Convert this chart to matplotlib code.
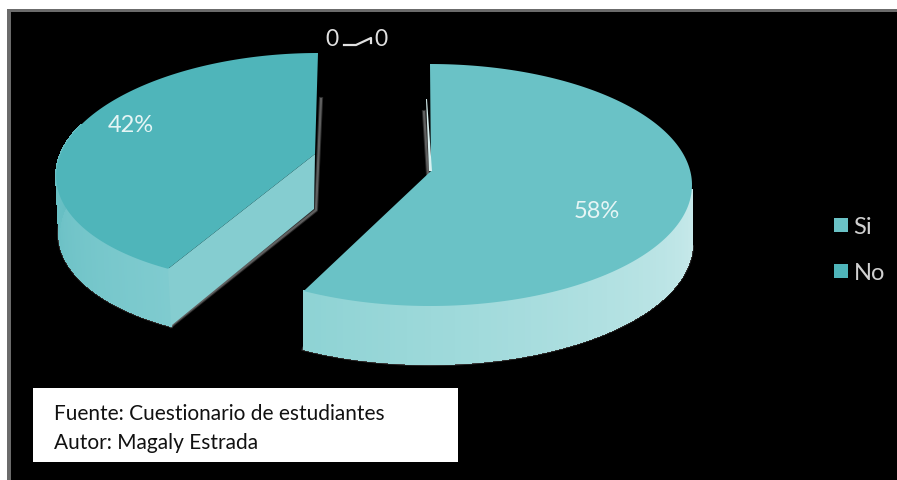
import numpy as np
from matplotlib import pyplot as plt
from matplotlib.colors import to_rgb
from matplotlib.lines import Line2D

categories = ["Si", "No"]
shares = [58, 42]
zero_labels = [0, 0]
source_lines = ["Fuente: Cuestionario de estudiantes", "Autor: Magaly Estrada"]

plt.rcParams['font.family'] = ['Lato', 'DejaVu Sans']


def rim(t, shape):
    # t in degrees, clockwise from the top of the pie
    cx, top, a, b, shear = shape
    rad = np.radians(t)
    depth = b * (1 - np.cos(rad))
    return cx + a * np.sin(rad) + shear * depth, top + depth


def mix(c1, c2, f):
    c1, c2 = np.array(to_rgb(c1)), np.array(to_rgb(c2))
    return tuple(c1 + (c2 - c1) * f)


def glow(ax, x, y):
    # soft grey edge, the reference is a bit blurred
    ax.plot(x, y, color='#777777', lw=3, alpha=0.35, zorder=1)
    ax.plot(x, y, color='#777777', lw=1.6, alpha=0.7, zorder=1)


def draw_side(ax, t0, t1, shape, height, dx, c0, c1):
    steps = np.linspace(t0, t1, 90)
    x, y = rim(steps, shape)
    glow(ax, x + dx, y + height)
    for i in range(len(steps) - 1):
        x, y = rim(steps[i:i + 2], shape)
        qx = [x[0], x[1], x[1] + dx, x[0] + dx]
        qy = [y[0], y[1], y[1] + height, y[0] + height]
        col = mix(c0, c1, i / (len(steps) - 2))
        ax.fill(qx, qy, color=col, lw=0.8, antialiased=False, zorder=2)


fig = plt.figure(figsize=(8.97, 4.81), dpi=100, facecolor='white')
ax = fig.add_axes([0, 0, 1, 1])
ax.set_xlim(0, 897)
ax.set_ylim(481, 0)
ax.axis('off')

# black chart area with its grey border
ax.fill([7, 897, 897, 7], [10, 10, 481, 481], color='#6b6b6b', lw=0, zorder=0)
ax.fill([11, 897, 897, 11], [13, 13, 481, 481], color='black', lw=0, zorder=0)

cuts = 360 * np.cumsum([0] + shares) / sum(shares)

# Si slice
si_shape = (430, 65, 262, 121, 0)
si_apex = (431, 172)
draw_side(ax, 92, cuts[1], si_shape, 58, 0, '#c8e9ea', '#8ed3d4')
t = np.linspace(cuts[0], cuts[1], 200)
x, y = rim(t, si_shape)
ax.fill(np.r_[x, si_apex[0]], np.r_[y, si_apex[1]], color='#6ac2c6', lw=0, zorder=3)
glow(ax, [424, 428], [113, 175])
ax.fill([426, 429, 432, 427], [100, 172, 172, 100], color='#d8f0f0', lw=0, zorder=4)

# No slice
no_shape = (318, 54, 244, 115, -0.15)
no_apex = (315, 155)
draw_side(ax, cuts[1], 292, no_shape, 57, 3, '#7fcbcf', '#62bcc1')
t = np.linspace(cuts[1], cuts[2], 200)
x, y = rim(t, no_shape)
tip = rim(cuts[1], no_shape)
# flat cut face of the slice
glow(ax, [321, 316, tip[0] + 3], [100, 211, tip[1] + 57])
ax.fill([tip[0], no_apex[0], no_apex[0] - 1, tip[0] + 3],
        [tip[1], no_apex[1], no_apex[1] + 55, tip[1] + 57], color='#85cdd0', lw=0, zorder=3)
ax.fill(np.r_[x, no_apex[0]], np.r_[y, no_apex[1]], color='#4fb5ba', lw=0, zorder=4)

# percent labels
ax.text(597, 212, "{}%".format(shares[0]), color='#e6f5f5', fontsize=17, ha='center', va='center', zorder=5)
ax.text(131, 125, "{}%".format(shares[1]), color='#e6f5f5', fontsize=17, ha='center', va='center', zorder=5)

# zero value labels and their leader line
ax.text(332, 40, str(zero_labels[0]), color='#e0e0e0', fontsize=16.5, ha='center', va='center', zorder=5)
ax.text(381, 40, str(zero_labels[1]), color='#e0e0e0', fontsize=16.5, ha='center', va='center', zorder=5)
ax.plot([344, 356, 371, 371], [46, 46, 39, 44], color='#e0e0e0', lw=1.6, zorder=5)

# legend
handles = [Line2D([], [], linestyle='None', marker='s', ms=10, mew=0, color=c)
           for c in ['#6ac2c6', '#4fb5ba']]
leg = ax.legend(handles, categories, loc='center left', bbox_to_anchor=(0.899, 0.479), frameon=False,
                labelcolor='#d0d0d0', fontsize=17, labelspacing=1.05, handletextpad=0.0, handlelength=1.1)

# source box
ax.fill([33, 458, 458, 33], [389, 389, 463, 463], color='white', lw=0, zorder=5)
ax.text(54, 414, source_lines[0], color='#111111', fontsize=15, va='center', zorder=6)
ax.text(54, 443, source_lines[1], color='#111111', fontsize=15, va='center', zorder=6)

fig.savefig('out.png', dpi=100)
